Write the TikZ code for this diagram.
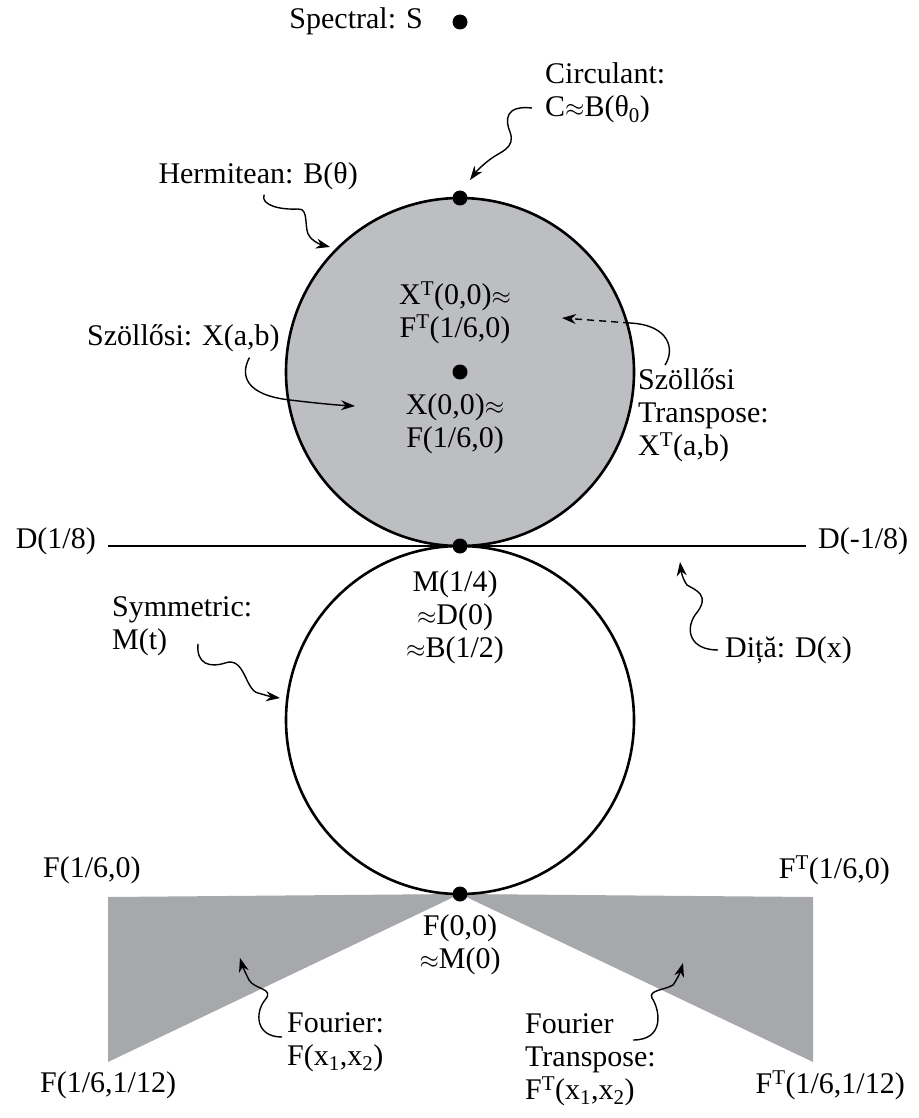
\documentclass[tikz,border=0pt]{standalone}
\usepackage{fontspec}
\setmainfont{Liberation Serif}
\usetikzlibrary{positioning,arrows.meta}
\definecolor{discgray}{RGB}{189,190,193}
\definecolor{conegray}{RGB}{167,168,172}
\newcommand{\supT}{\textsuperscript{T}}
\newcommand{\apx}{$\approx$}

\begin{document}
\begin{tikzpicture}[x=1pt, y=-1pt, font=\fontsize{30}{33}\selectfont,
  lbl/.style={inner sep=0pt},
  pt/.style={circle, fill=black, inner sep=0pt, minimum size=15pt},
  rim/.style={line width=2.6pt},
  squig/.style={line width=1.4pt, -{Stealth[length=14pt, width=10pt]}}]
	\useasboundingbox (0,0) rectangle (918,1118);
	% shaded regions and outlines
	\fill[conegray] (460,894) -- (108,897) -- (108,1062) -- cycle;
	\fill[conegray] (460,894) -- (813,897) -- (813,1062) -- cycle;
	\draw[rim, fill=discgray] (460,372) circle (174pt);
	\draw[rim] (460,720) circle (174pt);
	\draw[rim] (108,546) -- (806,546);
	% points
	\node[pt] (sdot) at (460,22) {};
	\node[pt] (ctop) at (460,198) {};
	\node[pt] (cmid) at (460,372) {};
	\node[pt] (touch) at (460,546) {};
	\node[pt] (cbot) at (460,894) {};
	% labels
	\node[lbl, anchor=base east] (spectral) at (423,29) {Spectral: S};
	\node[lbl, align=left, anchor=west] (circ) at (545,93) {Circulant:\\C\apx B(θ\textsubscript{0})};
	\node[lbl, anchor=base east] (herm) at (358,183) {Hermitean: B(θ)};
	\node[lbl, align=center] (xtzero) at (455,313) {X\supT(0,0)\apx\\F\supT(1/6,0)};
	\node[lbl, align=center] (xzero) at (455,424) {X(0,0)\apx\\F(1/6,0)};
	\node[lbl, anchor=base west] (szol) at (87,345) {Szöllősi: X(a,b)};
	\node[lbl, align=left, anchor=north west] (szolt) at (638,368) {Szöllősi\\Transpose:\\X\supT(a,b)};
	\node[lbl, anchor=east] (dplus) at (96,541) {D(1/8)};
	\node[lbl, anchor=west] (dminus) at (818,541) {D(-1/8)};
	\node[lbl, align=center] (mquart) at (455,617) {M(1/4)\\\apx D(0)\\\apx B(1/2)};
	\node[lbl, align=left, anchor=north west] (sym) at (112,596) {Symmetric:\\M(t)};
	\node[lbl, anchor=west] (dita) at (725,650) {Diță: D(x)};
	\node[lbl, anchor=west] (fsix) at (43,870) {F(1/6,0)};
	\node[lbl, anchor=east] (ftsix) at (890,870) {F\supT(1/6,0)};
	\node[lbl, align=center] (fzero) at (460,945) {F(0,0)\\\apx M(0)};
	\node[lbl, align=left, anchor=north west] (four) at (287,1012) {Fourier:\\F(x\textsubscript{1},x\textsubscript{2})};
	\node[lbl, align=left, anchor=north west] (fourt) at (525,1013) {Fourier\\Transpose:\\F\supT(x\textsubscript{1},x\textsubscript{2})};
	\node[lbl, anchor=west] (fcorner) at (40,1085) {F(1/6,1/12)};
	\node[lbl, anchor=east] (ftcorner) at (905,1085) {F\supT(1/6,1/12)};
	% arrow targets
	\coordinate (circtip) at (470,180);
	\coordinate (hermtip) at (330,247);
	\coordinate (szoltip) at (355,406);
	\coordinate (szolttip) at (562,318);
	\coordinate (symtip) at (280,698);
	\coordinate (ditatip) at (680,562);
	\coordinate (fourtip) at (240,958);
	\coordinate (fourttip) at (683,963);
	% squiggly pointers
	\draw[squig] ([shift={(-13,15)}]circ.west) .. controls (505,105) and (505,120) .. (510,132)
		.. controls (516,148) and (500,152) .. (492,158) .. controls (482,165) and (476,172) .. (circtip);
	\draw[squig] ([shift={(6,5)}]herm.south) .. controls (260,205) and (280,210) .. (298,209)
		.. controls (310,208) and (303,230) .. (310,237) .. controls (315,243) and (322,245) .. (hermtip);
	\draw[squig] ([shift={(66,6)}]szol.south) .. controls (240,375) and (245,395) .. (290,400)
		.. controls (315,403) and (335,405) .. (szoltip);
	\draw[line width=1.4pt] ([shift={(27,-3)}]szolt.north west) .. controls (675,350) and (670,325) .. (630,323) coordinate (bend);
	\draw[squig, dash pattern=on 7pt off 5pt] (bend) -- (szolttip);
	\draw[squig] ([shift={(86,18)}]sym.west) .. controls (196,664) and (210,668) .. (225,663)
		.. controls (245,656) and (245,690) .. (258,693) .. controls (265,695) and (272,697) .. (symtip);
	\draw[squig] ([xshift=-7pt]dita.west) .. controls (690,650) and (685,630) .. (695,615)
		.. controls (712,595) and (695,590) .. (687,585) .. controls (682,578) and (681,570) .. (ditatip);
	\draw[squig] ([xshift=-5pt]four.north west |- 0,1037) .. controls (255,1037) and (255,1012) .. (265,1000)
		.. controls (275,988) and (255,990) .. (249,980) .. controls (245,972) and (242,965) .. (fourtip);
	\draw[squig] ([shift={(108,27)}]fourt.north west) .. controls (665,1040) and (660,1010) .. (652,998)
		.. controls (648,990) and (665,990) .. (673,985) .. controls (678,978) and (681,970) .. (fourttip);
\end{tikzpicture}
\end{document}
